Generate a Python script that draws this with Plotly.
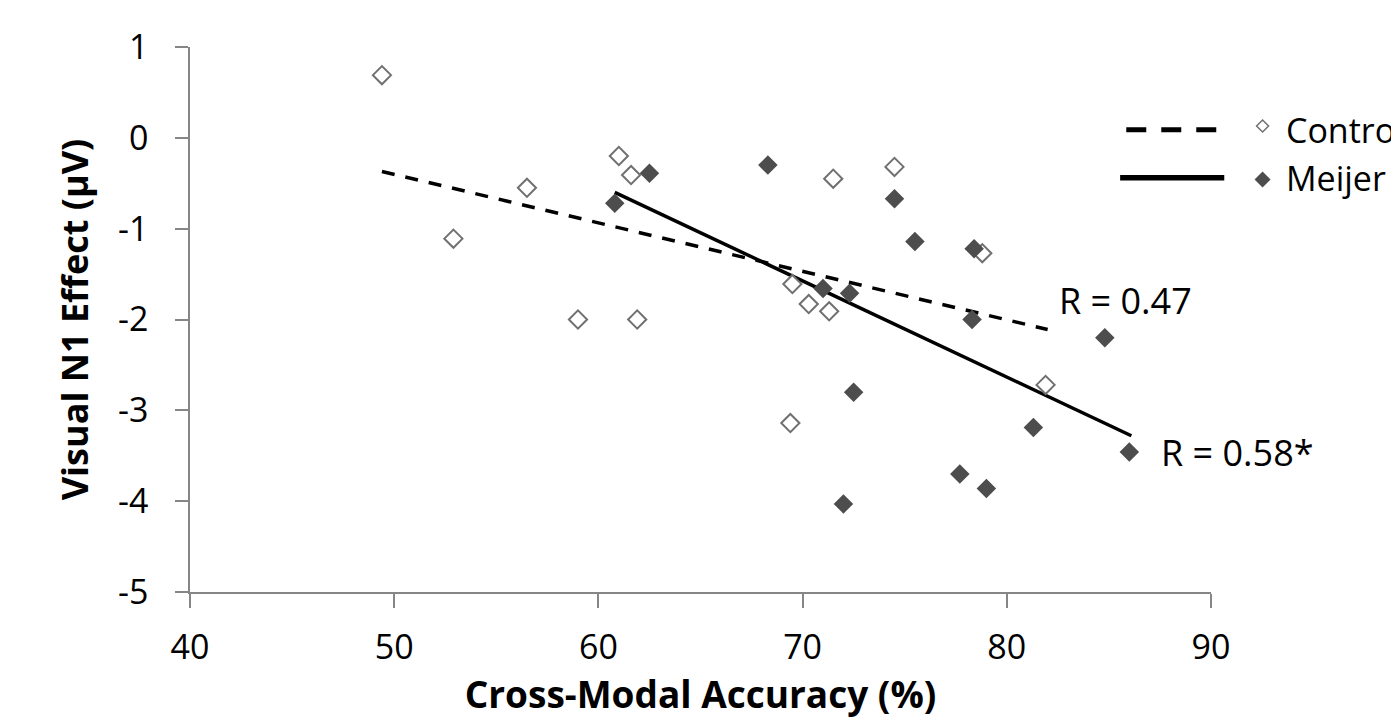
import plotly.graph_objects as go

# ---- data ----
ctrl_x = [49.4, 52.9, 56.5, 59.0, 61.0, 61.6, 61.9, 69.5, 70.3, 69.4, 71.3, 71.5, 74.5, 78.8, 81.9]
ctrl_y = [0.69, -1.11, -0.55, -2.00, -0.20, -0.41, -2.00, -1.61, -1.83, -3.14, -1.91, -0.45, -0.32, -1.27, -2.72]

meij_x = [60.8, 62.5, 68.3, 74.5, 75.5, 78.4, 71.0, 72.3, 78.3, 84.8, 72.5, 81.3, 86.0, 77.7, 79.0, 72.0]
meij_y = [-0.72, -0.39, -0.30, -0.67, -1.14, -1.22, -1.66, -1.71, -2.00, -2.20, -2.80, -3.19, -3.46, -3.70, -3.86, -4.03]

ctrl_fit_x = [49.4, 82.0]
ctrl_fit_y = [-0.37, -2.11]
meij_fit_x = [60.8, 86.1]
meij_fit_y = [-0.60, -3.28]

series_names = ["Controls", "Meijer"]
r_labels = ["R = 0.47", "R = 0.58*"]
r_pos = [(82.45, -1.79), (87.45, -3.46)]

x_ticks = [40, 50, 60, 70, 80, 90]
y_ticks = [1, 0, -1, -2, -3, -4, -5]

FONT = "Open Sans"
AXIS_COLOR = "#868686"
HOLLOW_EDGE = "#707070"
FILLED = "#4d4d4d"

fig = go.Figure()

# trend lines
fig.add_trace(go.Scatter(x=ctrl_fit_x, y=ctrl_fit_y, mode="lines",
                         line=dict(color="black", width=3.5, dash="13px,11px"),
                         showlegend=False, hoverinfo="skip"))
fig.add_trace(go.Scatter(x=meij_fit_x, y=meij_fit_y, mode="lines",
                         line=dict(color="black", width=3.5),
                         showlegend=False, hoverinfo="skip"))

# scatter points
fig.add_trace(go.Scatter(x=ctrl_x, y=ctrl_y, mode="markers", name=series_names[0],
                         marker=dict(symbol="diamond", size=14, color="white",
                                     line=dict(color=HOLLOW_EDGE, width=2)),
                         showlegend=False))
fig.add_trace(go.Scatter(x=meij_x, y=meij_y, mode="markers", name=series_names[1],
                         marker=dict(symbol="diamond", size=15, color=FILLED,
                                     line=dict(color=FILLED, width=0)),
                         showlegend=False))

# manual legend (runs past the right edge, as in the reference)
leg_y = [0.09, -0.44]
leg_sym_x = 1.0505
fig.add_shape(type="line", xref="paper", yref="y", x0=0.917, x1=1.013,
              y0=leg_y[0], y1=leg_y[0], line=dict(color="black", width=5, dash="20px,15px"))
fig.add_shape(type="line", xref="paper", yref="y", x0=0.911, x1=1.013,
              y0=leg_y[1], y1=leg_y[1], line=dict(color="black", width=5.5))
fig.add_shape(type="path", xref="paper", yref="y", xsizemode="pixel", ysizemode="pixel",
              xanchor=leg_sym_x, yanchor=leg_y[0] + 0.04,
              path="M -6 0 L 0 6 L 6 0 L 0 -6 Z",
              fillcolor="white", line=dict(color=HOLLOW_EDGE, width=1.5))
fig.add_shape(type="path", xref="paper", yref="y", xsizemode="pixel", ysizemode="pixel",
              xanchor=leg_sym_x, yanchor=leg_y[1] - 0.02,
              path="M -8 0 L 0 8 L 8 0 L 0 -8 Z",
              fillcolor=FILLED, line=dict(color=FILLED, width=0))

for name, yy in zip(series_names, leg_y):
    fig.add_annotation(x=1.0715, y=yy, xref="paper", yref="y", text=name, showarrow=False,
                       xanchor="left", yanchor="middle",
                       font=dict(family=FONT, size=34, color="black"))

for lab, (ax, ay) in zip(r_labels, r_pos):
    fig.add_annotation(x=ax, y=ay, xref="x", yref="y", text=lab, showarrow=False,
                       xanchor="left", yanchor="middle",
                       font=dict(family=FONT, size=36, color="black"))

fig.update_xaxes(range=[40, 90], tickvals=x_ticks, ticktext=[str(v) for v in x_ticks],
                 showgrid=False, zeroline=False, showline=True, linecolor=AXIS_COLOR,
                 linewidth=1.5, ticks="outside", ticklen=14, tickcolor=AXIS_COLOR,
                 tickwidth=1.5, ticklabelstandoff=10,
                 tickfont=dict(family=FONT, size=34, color="black"),
                 title=dict(text="<b>Cross-Modal Accuracy (%)</b>", standoff=0,
                            font=dict(family=FONT, size=37, color="black")))
fig.update_yaxes(range=[-5, 1], tickvals=y_ticks, ticktext=[str(v) for v in y_ticks],
                 showgrid=False, zeroline=False, showline=True, linecolor=AXIS_COLOR,
                 linewidth=1.5, ticks="outside", ticklen=13, tickcolor=AXIS_COLOR,
                 tickwidth=1.5, ticklabelstandoff=20,
                 tickfont=dict(family=FONT, size=34, color="black"),
                 title=dict(text="<b>Visual N1 Effect (µV)</b>", standoff=18,
                            font=dict(family=FONT, size=36, color="black")))

fig.update_layout(width=1391, height=719,
                  margin=dict(l=190, r=180, t=47, b=127),
                  plot_bgcolor="white", paper_bgcolor="white",
                  showlegend=False)

fig.write_html("out.html")
